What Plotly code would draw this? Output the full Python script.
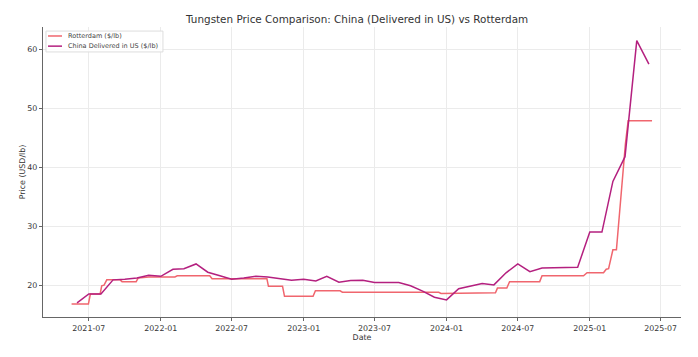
import plotly.graph_objects as go

# China Delivered in US ($/lb), monthly
china_dates = [
    "2021-06-01", "2021-07-01", "2021-08-01", "2021-09-01", "2021-10-01", "2021-11-01", "2021-12-01",
    "2022-01-01", "2022-02-01", "2022-03-01", "2022-04-01", "2022-05-01", "2022-06-01", "2022-07-01",
    "2022-08-01", "2022-09-01", "2022-10-01", "2022-11-01", "2022-12-01",
    "2023-01-01", "2023-02-01", "2023-03-01", "2023-04-01", "2023-05-01", "2023-06-01", "2023-07-01",
    "2023-08-01", "2023-09-01", "2023-10-01", "2023-11-01", "2023-12-01",
    "2024-01-01", "2024-02-01", "2024-03-01", "2024-04-01", "2024-05-01", "2024-06-01", "2024-07-01",
    "2024-08-01", "2024-09-01", "2024-10-01", "2024-11-01", "2024-12-01",
    "2025-01-01", "2025-02-01", "2025-03-01", "2025-04-01", "2025-05-01", "2025-06-01",
]
china_values = [
    17.0, 18.5, 18.5, 20.9, 21.0, 21.2, 21.7,
    21.5, 22.7, 22.8, 23.6, 22.2, 21.6, 21.0,
    21.2, 21.5, 21.4, 21.1, 20.85,
    21.0, 20.7, 21.5, 20.5, 20.8, 20.85, 20.45,
    20.45, 20.45, 19.9, 19.0, 17.95,
    17.5, 19.4, 19.8, 20.3, 20.05, 22.1, 23.6,
    22.3, 22.9, 22.95, 23.0, 23.05,
    29.0, 29.0, 37.6, 41.8, 61.5, 57.5,
]

# Rotterdam ($/lb), observation dates where the price changes
rotterdam_dates = [
    "2021-05-18", "2021-06-30", "2021-07-05", "2021-07-30", "2021-08-03", "2021-08-09", "2021-08-16",
    "2021-09-19", "2021-09-24", "2021-10-30", "2021-11-04", "2021-12-01", "2022-02-06", "2022-02-12",
    "2022-05-06", "2022-05-12", "2022-09-29", "2022-10-03", "2022-11-08", "2022-11-13",
    "2023-01-25", "2023-01-31", "2023-04-04", "2023-04-10", "2023-12-12", "2023-12-18",
    "2024-05-05", "2024-05-10", "2024-06-03", "2024-06-10", "2024-08-26", "2024-09-01",
    "2024-12-16", "2024-12-25", "2025-02-05", "2025-02-12", "2025-02-18", "2025-03-01",
    "2025-03-10", "2025-04-02", "2025-04-09", "2025-06-09",
]
rotterdam_values = [
    16.8, 16.8, 18.5, 18.5, 19.9, 20.0, 20.9,
    20.9, 20.6, 20.6, 21.2, 21.4, 21.4, 21.6,
    21.6, 21.1, 21.1, 19.8, 19.8, 18.1,
    18.1, 19.05, 19.05, 18.8, 18.8, 18.6,
    18.7, 19.5, 19.5, 20.6, 20.6, 21.6,
    21.6, 22.1, 22.1, 22.7, 22.8, 26.0,
    26.0, 44.0, 47.9, 47.9,
]

x_ticks = ["2021-07-01", "2022-01-01", "2022-07-01", "2023-01-01", "2023-07-01",
           "2024-01-01", "2024-07-01", "2025-01-01", "2025-07-01"]
x_tick_labels = ["2021-07", "2022-01", "2022-07", "2023-01", "2023-07",
                 "2024-01", "2024-07", "2025-01", "2025-07"]
y_ticks = [20, 30, 40, 50, 60]

series_names = ["Rotterdam ($/lb)", "China Delivered in US ($/lb)"]
series_colors = ["#F0666E", "#B4207F"]

FONT = "DejaVu Sans"
TXT = "#333333"

fig = go.Figure()
fig.add_trace(go.Scatter(
    x=rotterdam_dates, y=rotterdam_values, mode="lines",
    name=series_names[0], line=dict(color=series_colors[0], width=1.5),
))
fig.add_trace(go.Scatter(
    x=china_dates, y=china_values, mode="lines",
    name=series_names[1], line=dict(color=series_colors[1], width=1.5),
))

# compact matplotlib-style legend drawn with shapes and text
legend_shapes = [dict(type="rect", xref="paper", yref="paper",
                      x0=0.0047, x1=0.188, y0=0.914, y1=0.986,
                      line=dict(color="#dddddd", width=1), fillcolor="rgba(255,255,255,0.85)",
                      layer="above")]
legend_annots = []
for i, (nm, col) in enumerate(zip(series_names, series_colors)):
    yy = 0.969 - i * 0.035
    legend_shapes.append(dict(type="line", xref="paper", yref="paper",
                              x0=0.0078, x1=0.0298, y0=yy, y1=yy,
                              line=dict(color=col, width=1.5), layer="above"))
    legend_annots.append(dict(xref="paper", yref="paper", x=0.036, y=yy,
                              xanchor="left", yanchor="middle", showarrow=False,
                              text=nm, font=dict(size=6.5, family=FONT, color="#444444")))

fig.update_layout(
    width=690, height=349,
    margin=dict(l=35, r=17, t=19, b=40, autoexpand=False),
    paper_bgcolor="white", plot_bgcolor="white",
    font=dict(family=FONT, color=TXT),
    title=dict(text="Tungsten Price Comparison: China (Delivered in US) vs Rotterdam",
               x=0.506, xanchor="center", y=0.968, yanchor="middle",
               font=dict(size=10.4, family=FONT, color=TXT)),
    showlegend=False,
    shapes=legend_shapes,
    annotations=legend_annots,
)
fig.update_xaxes(
    type="date", range=["2021-03-06", "2025-08-22"],
    tickvals=x_ticks, ticktext=x_tick_labels,
    tickfont=dict(size=7.9, family=FONT, color=TXT),
    showgrid=True, gridcolor="#ebebeb", gridwidth=1,
    showline=True, linecolor="#666666", linewidth=1.2,
    ticks="outside", ticklen=3, tickcolor="#666666",
    title=dict(text="Date", font=dict(size=7.9, family=FONT, color=TXT), standoff=2),
    zeroline=False, automargin=False,
)
fig.update_yaxes(
    range=[14.6, 63.8], tickvals=y_ticks,
    tickfont=dict(size=7.9, family=FONT, color=TXT),
    showgrid=True, gridcolor="#ebebeb", gridwidth=1,
    showline=True, linecolor="#666666", linewidth=1.2,
    ticks="outside", ticklen=3, tickcolor="#666666",
    title=dict(text="Price (USD/lb)", font=dict(size=7.9, family=FONT, color=TXT), standoff=0),
    zeroline=False, automargin=False,
)

fig.write_html("out.html")
